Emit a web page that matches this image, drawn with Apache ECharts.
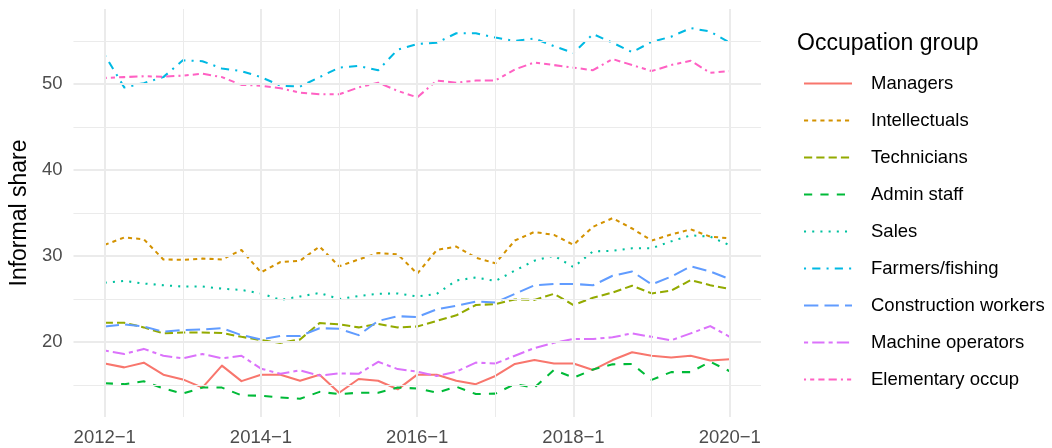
<!DOCTYPE html>
<html>
<head>
<meta charset="utf-8">
<script src="https://cdn.jsdelivr.net/npm/echarts@6/dist/echarts.min.js"></script>
<style>
  html, body { margin: 0; padding: 0; background: #ffffff; }
  #chart { width: 1052px; height: 448px; }
</style>
</head>
<body>
<div id="chart"></div>
<script>
// Quarterly periods, 2012-1 through 2020-1
const quarters = [
  '2012-1','2012-2','2012-3','2012-4','2013-1','2013-2','2013-3','2013-4',
  '2014-1','2014-2','2014-3','2014-4','2015-1','2015-2','2015-3','2015-4',
  '2016-1','2016-2','2016-3','2016-4','2017-1','2017-2','2017-3','2017-4',
  '2018-1','2018-2','2018-3','2018-4','2019-1','2019-2','2019-3','2019-4',
  '2020-1'
];

// Informal share (%) by occupation group
const managers = [17.5, 17.05, 17.6, 16.2, 15.65, 14.7, 17.25, 15.45, 16.2, 16.2, 15.5, 16.2, 14.1, 15.7, 15.5, 14.5, 16.2, 16.2, 15.5, 15.1, 16.05, 17.45, 17.9, 17.5, 17.5, 16.75, 17.9, 18.8, 18.4, 18.2, 18.4, 17.85, 18.0];
const intellectuals = [31.3, 32.15, 31.95, 29.6, 29.55, 29.7, 29.6, 30.7, 28.1, 29.3, 29.45, 31.1, 28.8, 29.6, 30.35, 30.2, 27.95, 30.7, 31.1, 29.8, 29.15, 31.8, 32.8, 32.45, 31.3, 33.4, 34.4, 33.2, 31.8, 32.5, 33.1, 32.25, 32.05];
const technicians = [22.24, 22.24, 21.7, 21.0, 21.1, 21.1, 21.05, 20.6, 20.23, 19.9, 20.3, 22.2, 22.05, 21.7, 22.1, 21.7, 21.8, 22.45, 23.1, 24.3, 24.4, 24.95, 24.9, 25.6, 24.3, 25.15, 25.75, 26.55, 25.65, 25.97, 27.2, 26.6, 26.15];
const adminStaff = [15.2, 15.1, 15.43, 14.6, 14.0, 14.7, 14.7, 13.8, 13.75, 13.55, 13.4, 14.2, 13.95, 14.1, 14.1, 14.7, 14.6, 14.1, 14.8, 13.95, 14.0, 15.1, 14.7, 16.75, 15.85, 16.8, 17.4, 17.45, 15.6, 16.5, 16.5, 17.7, 16.6];
const sales = [26.9, 27.1, 26.8, 26.6, 26.45, 26.45, 26.2, 26.05, 25.65, 24.9, 25.3, 25.7, 25.0, 25.35, 25.6, 25.65, 25.3, 25.6, 27.15, 27.5, 27.1, 28.3, 29.45, 30.05, 28.7, 30.55, 30.6, 30.9, 30.9, 31.7, 32.4, 32.25, 31.25];
const farmers = [53.37, 49.6, 50.1, 50.8, 52.75, 52.65, 51.8, 51.5, 50.8, 49.8, 49.7, 50.8, 51.9, 52.1, 51.6, 54.0, 54.65, 54.8, 55.9, 55.9, 55.4, 55.0, 55.3, 54.4, 53.6, 55.8, 54.8, 53.7, 54.9, 55.5, 56.5, 56.1, 54.8];
const construction = [21.8, 22.05, 21.8, 21.2, 21.4, 21.45, 21.6, 20.8, 20.3, 20.7, 20.7, 21.6, 21.55, 20.8, 22.45, 23.0, 22.9, 23.8, 24.2, 24.7, 24.6, 25.6, 26.6, 26.75, 26.75, 26.6, 27.7, 28.2, 26.7, 27.6, 28.8, 28.2, 27.3];
const machineOps = [19.0, 18.6, 19.2, 18.4, 18.1, 18.6, 18.1, 18.4, 16.9, 16.3, 16.7, 16.1, 16.35, 16.3, 17.7, 16.85, 16.55, 16.05, 16.55, 17.6, 17.5, 18.4, 19.3, 19.9, 20.35, 20.35, 20.55, 21.0, 20.6, 20.2, 21.0, 21.85, 20.6];
const elementary = [50.7, 50.8, 50.9, 50.85, 50.97, 51.2, 50.8, 49.9, 49.8, 49.5, 49.0, 48.8, 48.8, 49.6, 50.15, 49.2, 48.45, 50.4, 50.15, 50.4, 50.4, 51.7, 52.5, 52.2, 51.9, 51.6, 52.9, 52.2, 51.5, 52.2, 52.7, 51.3, 51.5];

const groupNames = ['Managers', 'Intellectuals', 'Technicians', 'Admin staff', 'Sales',
  'Farmers/fishing', 'Construction workers', 'Machine operators', 'Elementary occup'];
const groupValues = [managers, intellectuals, technicians, adminStaff, sales,
  farmers, construction, machineOps, elementary];

// Axis ticks
const xLabelIdx = [0, 8, 16, 24, 32];
const xMinorIdx = [4, 12, 20, 28];
const yMajor = [20, 30, 40, 50];
const yMinor = [15, 25, 35, 45, 55];

// Styling
const palette = ['#F8766D', '#D39200', '#93AA00', '#00BA38', '#00C19F',
  '#00B9E3', '#619CFF', '#DB72FB', '#FF61C3'];
const lw = 2.05;
const dashUnits = [null, [2, 2], [4, 2], [4, 4], [1, 3], [1, 3, 4, 3], [7, 3], [2, 2, 6, 2], [1, 2, 2, 2, 3, 2, 4, 2]];
const FONT = '"Liberation Sans", Arial, Helvetica, sans-serif';

const chart = echarts.init(document.getElementById('chart'), null, { renderer: 'canvas' });

const gridColor = '#EBEBEB';
const gridLines = [];
xLabelIdx.forEach(v => gridLines.push({ xAxis: v, lineStyle: { color: gridColor, width: 2, type: 'solid' } }));
xMinorIdx.forEach(v => gridLines.push({ xAxis: v, lineStyle: { color: gridColor, width: 1, type: 'solid' } }));
yMajor.forEach(v => gridLines.push({ yAxis: v, lineStyle: { color: gridColor, width: 2, type: 'solid' } }));
yMinor.forEach(v => gridLines.push({ yAxis: v, lineStyle: { color: gridColor, width: 1, type: 'solid' } }));

const series = [{
  name: '__grid',
  type: 'line',
  data: [],
  z: 0,
  silent: true,
  markLine: {
    silent: true,
    symbol: ['none', 'none'],
    label: { show: false },
    animation: false,
    data: gridLines
  }
}];

groupNames.forEach((name, k) => {
  series.push({
    name: name,
    type: 'line',
    z: 2,
    symbol: 'none',
    showSymbol: false,
    animation: false,
    data: groupValues[k].map((v, i) => [i, v]),
    lineStyle: {
      color: palette[k],
      width: lw,
      type: dashUnits[k] ? dashUnits[k].map(u => u * lw) : 'solid',
      cap: 'butt',
      join: 'round'
    },
    itemStyle: { color: palette[k] }
  });
});

chart.setOption({
  animation: false,
  backgroundColor: '#ffffff',
  title: {
    text: 'Occupation group',
    left: 797,
    top: 32,
    padding: 0,
    textStyle: { fontFamily: FONT, fontSize: 23, fontWeight: 'normal', color: '#000000' }
  },
  legend: {
    orient: 'vertical',
    left: 803,
    top: 74,
    padding: 0,
    itemWidth: 48,
    itemHeight: 18,
    itemGap: 18.0,
    data: groupNames,
    itemStyle: { opacity: 0 },
    textStyle: { fontFamily: FONT, fontSize: 18.5, color: '#000000', padding: [0, 0, 0, 14] }
  },
  grid: { left: 71, right: 291, top: 9, bottom: 31, containLabel: false },
  xAxis: {
    type: 'value',
    min: -1.6,
    max: 33.6,
    axisLine: { show: false },
    axisTick: { show: false },
    splitLine: { show: false },
    axisLabel: {
      customValues: xLabelIdx,
      margin: 11,
      fontFamily: FONT,
      fontSize: 18.5,
      color: '#4D4D4D',
      formatter: v => quarters[Math.round(v)].replace('-', '\u2212')
    }
  },
  yAxis: {
    type: 'value',
    min: 11.28,
    max: 58.72,
    name: 'Informal share',
    nameLocation: 'middle',
    nameRotate: 90,
    nameGap: 41,
    nameTextStyle: { fontFamily: FONT, fontSize: 23, color: '#000000' },
    axisLine: { show: false },
    axisTick: { show: false },
    splitLine: { show: false },
    axisLabel: {
      customValues: yMajor,
      margin: 11,
      fontFamily: FONT,
      fontSize: 18.5,
      color: '#4D4D4D'
    }
  },
  series: series
});
</script>
</body>
</html>
